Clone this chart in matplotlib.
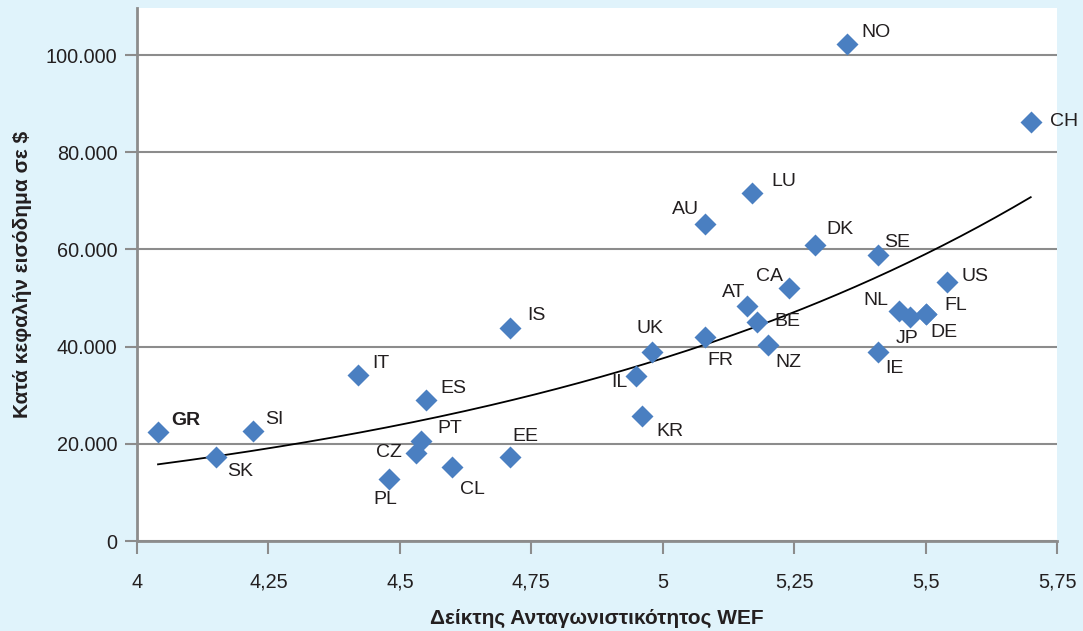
import numpy as np
import matplotlib
matplotlib.use("Agg")
import matplotlib.pyplot as plt
from matplotlib.ticker import FuncFormatter

plt.rcParams['font.family'] = ['Liberation Sans', 'DejaVu Sans']

# WEF competitiveness index vs GDP per capita ($)
countries = ['GR', 'SK', 'SI', 'IT', 'ES', 'PT', 'CZ', 'PL', 'CL', 'EE',
             'IS', 'IL', 'KR', 'UK', 'FR', 'AU', 'LU', 'AT', 'BE', 'NZ',
             'CA', 'DK', 'NO', 'SE', 'NL', 'JP', 'DE', 'FL', 'IE', 'US', 'CH']
wef_index = [4.04, 4.15, 4.22, 4.42, 4.55, 4.54, 4.53, 4.48, 4.60, 4.71,
             4.71, 4.95, 4.96, 4.98, 5.08, 5.08, 5.17, 5.16, 5.18, 5.20,
             5.24, 5.29, 5.35, 5.41, 5.45, 5.47, 5.50, 5.50, 5.41, 5.54, 5.70]
income = [22400, 17300, 22600, 34200, 29000, 20600, 18100, 12800, 15200, 17300,
          43800, 34000, 25700, 38900, 42000, 65200, 71600, 48400, 45100, 40300,
          52100, 60900, 102300, 58800, 47300, 46100, 46700, 46700, 38900, 53300, 86200]

# label placement (offset in pixels, horizontal alignment)
label_pos = {
    'GR': (13, 12, 'left'), 'SK': (11, -15, 'left'), 'SI': (12, 12, 'left'),
    'IT': (14, 11, 'left'), 'ES': (14, 12, 'left'), 'PT': (16, 12, 'left'),
    'CZ': (-14, 1, 'right'), 'PL': (-4, -21, 'center'), 'CL': (8, -22, 'left'),
    'EE': (2, 20, 'left'), 'IS': (17, 13, 'left'), 'IL': (-9, -7, 'right'),
    'KR': (15, -15, 'left'), 'UK': (-2, 24, 'center'), 'FR': (16, -24, 'center'),
    'AU': (-6, 15, 'right'), 'LU': (19, 12, 'left'), 'AT': (-2, 13, 'right'),
    'BE': (17, 0, 'left'), 'NZ': (8, -17, 'left'), 'CA': (-6, 11, 'right'),
    'DK': (11, 16, 'left'), 'NO': (15, 11, 'left'), 'SE': (6, 13, 'left'),
    'NL': (-11, 11, 'right'), 'JP': (-3, -21, 'center'), 'DE': (5, -18, 'left'),
    'FL': (19, 9, 'left'), 'IE': (7, -16, 'left'), 'US': (15, 6, 'left'),
    'CH': (19, 1, 'left'),
}

bg = '#e0f3fb'
blue = '#4a7fc1'
gray = '#8c8c8c'
txt = '#231f20'

fig = plt.figure(figsize=(10.83, 6.31), dpi=100, facecolor=bg)
ax = fig.add_axes([0.1265, 0.1426, 0.8495, 0.8447])
ax.set_facecolor('white')

x = np.array(wef_index)
y = np.array(income)

# exponential trend line fitted on the data
b, a = np.polyfit(x, np.log(y), 1)
xs = np.linspace(x.min(), x.max(), 200)
ax.plot(xs, np.exp(a + b * xs), color='black', lw=1.3, zorder=2)

ax.plot(x, y, 'D', color=blue, ms=11, mec='none', zorder=3)

for c, xv, yv in zip(countries, x, y):
    dx, dy, ha = label_pos[c]
    ax.annotate(c, (xv, yv), xytext=(dx, dy), textcoords='offset pixels',
                ha=ha, va='center', fontsize=14, color=txt,
                fontweight='bold' if c == 'GR' else 'normal')

ax.set_xlim(4, 5.75)
ax.set_ylim(0, 109700)
ax.set_xticks(np.arange(4, 5.76, 0.25))
ax.set_yticks(np.arange(0, 100001, 20000))
ax.xaxis.set_major_formatter(FuncFormatter(lambda v, p: f"{v:g}".replace('.', ',')))
ax.yaxis.set_major_formatter(FuncFormatter(lambda v, p: f"{int(v):,}".replace(',', '.')))

ax.grid(axis='y', color=gray, lw=1.5)
ax.set_axisbelow(True)
for s in ['top', 'right']:
    ax.spines[s].set_visible(False)
for s in ['left', 'bottom']:
    ax.spines[s].set_color(gray)
    ax.spines[s].set_linewidth(2)
ax.tick_params(axis='both', colors=gray, width=1.5, length=9, labelsize=14.3,
               labelcolor=txt)
ax.tick_params(axis='x', pad=14)
ax.tick_params(axis='y', pad=5)

ax.set_xlabel('Δείκτης Ανταγωνιστικότητος WEF', fontsize=15, fontweight='bold',
              color=txt, labelpad=12)
ax.set_ylabel('Κατά κεφαλήν εισόδημα σε $', fontsize=15, fontweight='bold',
              color=txt, labelpad=10)

fig.savefig('out.png', dpi=100, facecolor=bg)
